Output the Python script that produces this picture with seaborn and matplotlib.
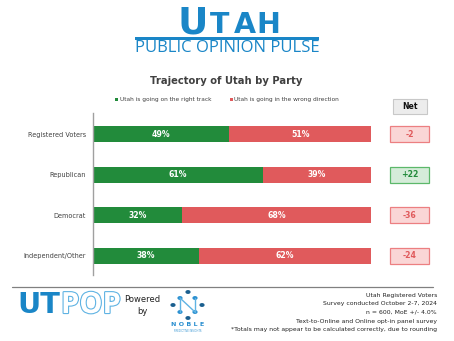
import matplotlib
matplotlib.use("Agg")
import matplotlib.pyplot as plt
import matplotlib.patheffects as pe
from matplotlib.patches import Rectangle, Circle
import seaborn as sns
import pandas as pd
import numpy as np

categories = ["Registered Voters", "Republican", "Democrat", "Independent/Other"]
right_track = [49, 61, 32, 38]
wrong_direction = [51, 39, 68, 62]
legend_labels = ["Utah is going on the right track", "Utah is going in the wrong direction"]
title = "Trajectory of Utah by Party"
footer_lines = ["Utah Registered Voters", "Survey conducted October 2-7, 2024",
                "n = 600, MoE +/- 4.0%", "Text-to-Online and Online opt-in panel survey",
                "*Totals may not appear to be calculated correctly, due to rounding"]

GREEN = "#228b3b"
RED = "#e05a5c"
BLUE = "#1a86c7"
LBLUE = "#5fb3e3"
TXT = "#404040"

sns.set_theme(style="white")
plt.rcParams["font.family"] = ["DejaVu Sans"]

W, H = 454, 341
fig = plt.figure(figsize=(W / 100, H / 100), dpi=100)
fig.patch.set_facecolor("white")

def fx(x):
    return x / W

def fy(y):
    return 1 - y / H

# main bar axes
ax_l, ax_r, ax_t, ax_b = 93, 371, 113, 275
ax = fig.add_axes([fx(ax_l), fy(ax_b), (ax_r - ax_l) / W, (ax_b - ax_t) / H])

df = pd.DataFrame({"cat": categories, "right": right_track, "wrong": wrong_direction})
df["total"] = df["right"] + df["wrong"]
sns.barplot(data=df, y="cat", x="total", color=RED, saturation=1, width=0.39,
            orient="h", ax=ax, edgecolor="none")
sns.barplot(data=df, y="cat", x="right", color=GREEN, saturation=1, width=0.39,
            orient="h", ax=ax, edgecolor="none")
ax.set_xlim(0, 100)
ax.set_ylim(3.47, -0.52)
ax.set_xlabel("")
ax.set_ylabel("")
ax.set_xticks([])
ax.tick_params(axis="y", length=0, pad=5, labelsize=4.7, labelcolor=TXT)
for s in ["top", "right", "bottom"]:
    ax.spines[s].set_visible(False)
ax.spines["left"].set_color("#a0a0a0")
ax.spines["left"].set_linewidth(1.0)

for i, (r, w) in enumerate(zip(right_track, wrong_direction)):
    ax.text(r / 2, i, f"{r}%", ha="center", va="center", color="white",
            fontsize=5.6, fontweight="bold")
    ax.text(r + w / 2, i, f"{w}%", ha="center", va="center", color="white",
            fontsize=5.6, fontweight="bold")
    net = r - w
    if net > 0:
        fc, ec, tc, lab = "#d5ecd9", "#5cb86a", GREEN, f"+{net}"
    else:
        fc, ec, tc, lab = "#fad6d6", "#ec7f81", RED, f"{net}"
    x0 = (390 - ax_l) / (ax_r - ax_l) * 100
    x1 = (429 - ax_l) / (ax_r - ax_l) * 100
    ax.add_patch(Rectangle((x0, i - 0.195), x1 - x0, 0.39, facecolor=fc,
                           edgecolor=ec, linewidth=0.9, clip_on=False))
    ax.text((x0 + x1) / 2, i, lab, ha="center", va="center", color=tc,
            fontsize=5.6, fontweight="bold", clip_on=False)

# Net header box
fig.patches.append(Rectangle((fx(393), fy(114)), 34 / W, 15 / H, transform=fig.transFigure,
                             facecolor="#ececec", edgecolor="#c8c8c8", linewidth=0.8))
fig.text(fx(410), fy(106.5), "Net", ha="center", va="center", fontsize=5.6,
         fontweight="bold", color="#111111")

# title and legend
fig.text(fx(226), fy(81), title, ha="center", va="center", fontsize=7.2,
         fontweight="bold", color=TXT)
fig.patches.append(Rectangle((fx(115.5), fy(101)), 3 / W, 3 / H, transform=fig.transFigure,
                             facecolor=GREEN, edgecolor="none"))
fig.text(fx(120), fy(99.3), legend_labels[0], ha="left", va="center", fontsize=4.2, color=TXT)
fig.patches.append(Rectangle((fx(229.5), fy(101)), 3 / W, 3 / H, transform=fig.transFigure,
                             facecolor=RED, edgecolor="none"))
fig.text(fx(234), fy(99.3), legend_labels[1], ha="left", va="center", fontsize=4.2, color=TXT)

# header logo
fig.text(fx(193), fy(33), "U", ha="center", va="baseline", fontsize=27,
         fontweight="bold", color=BLUE)
for letter, cx in zip("TAH", [220, 245, 268.5]):
    fig.text(fx(cx), fy(33), letter, ha="center", va="baseline", fontsize=20.5,
             fontweight="bold", color=BLUE)
fig.patches.append(Rectangle((fx(135), fy(39.5)), 184 / W, 2.5 / H, transform=fig.transFigure,
                             facecolor=BLUE, edgecolor="none"))
fig.text(fx(227), fy(48.5), "PUBLIC OPINION PULSE", ha="center", va="center",
         fontsize=12, color=BLUE, family="Open Sans")

# footer line
fig.add_artist(plt.Line2D([fx(12), fx(433)], [fy(287), fy(287)], color="#808080",
                          linewidth=0.9, transform=fig.transFigure))

# UTPOP logo
fig.text(fx(17), fy(313), "UT", ha="left", va="baseline", fontsize=20.7,
         fontweight="bold", color=BLUE)
fig.text(fx(61), fy(313), "POP", ha="left", va="baseline", fontsize=21,
         fontweight="bold", color="white", family="Open Sans",
         path_effects=[pe.withStroke(linewidth=1.6, foreground=LBLUE)])
fig.text(fx(142), fy(300), "Powered", ha="center", va="center", fontsize=6, color="#222222")
fig.text(fx(142), fy(311), "by", ha="center", va="center", fontsize=6, color="#222222")

# Noble logo
nodes = [(188, 292), (180, 298), (195, 298), (173, 305), (202, 305),
         (180, 312), (195, 312), (188, 318)]
lines = [((180, 298), (180, 312)), ((195, 298), (195, 312)), ((180, 298), (195, 312))]
for (a, b) in lines:
    fig.add_artist(plt.Line2D([fx(a[0]), fx(b[0])], [fy(a[1]), fy(b[1])], color="#5fb3e3",
                              linewidth=1.0, transform=fig.transFigure))
for i, (x, y) in enumerate(nodes):
    col = "#1a5f8f" if i in (0, 3, 4, 7) else "#2a8fd0"
    fig.patches.append(Circle((fx(x), fy(y)), 2.6 / W, transform=fig.transFigure,
                              facecolor=col, edgecolor="none"))
fig.text(fx(188), fy(324), "N O B L E", ha="center", va="center", fontsize=4.6,
         fontweight="bold", color="#2a8fd0")
fig.text(fx(188), fy(330.5), "PREDICTIVE INSIGHTS", ha="center", va="center", fontsize=1.8,
         color="#2a8fd0")

# footer text
for k, line in enumerate(footer_lines):
    fig.text(fx(437), fy(295 + k * 8.7), line, ha="right", va="center", fontsize=4.45,
             color="#222222")

fig.savefig("out.png", dpi=100, facecolor="white")
